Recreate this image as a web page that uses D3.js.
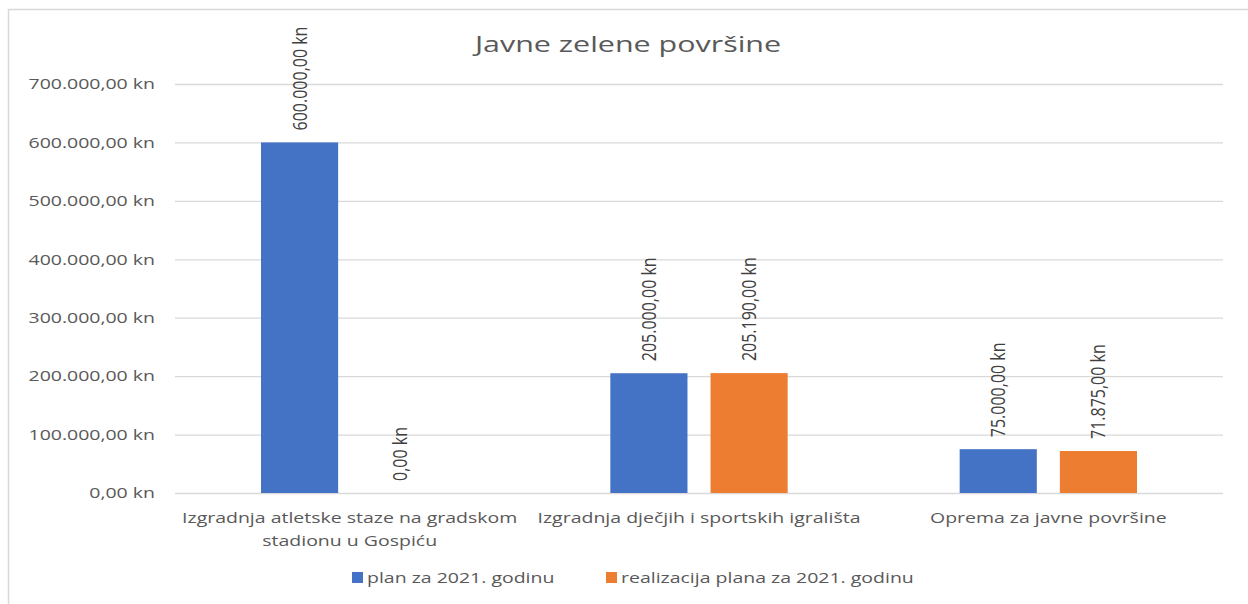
<!DOCTYPE html>
<html>
<head>
<meta charset="utf-8">
<script src="https://cdn.jsdelivr.net/npm/d3@7"></script>
<style>
    body { margin: 0; background: #fff; }
    #chart { width: 1248px; height: 604px; }
    text { font-family: "Open Sans", "Noto Sans", sans-serif; }
</style>
</head>
<body>
<div id="chart"></div>
<script>
// data
const categories = [
    ["Izgradnja atletske staze na gradskom", "stadionu u Gospiću"],
    ["Izgradnja dječjih i sportskih igrališta"],
    ["Oprema za javne površine"]
];
const seriesNames = ["plan za 2021. godinu", "realizacija plana za 2021. godinu"];
const planValues = [600000, 205000, 75000];
const realValues = [0, 205190, 71875];
const yTicks = [0, 100000, 200000, 300000, 400000, 500000, 600000, 700000];

const colors = ['#4472c4', '#ed7d31'];

// the original text is drawn wide, so stretch it horizontally
const stretch = 1.3;

// hr number format: 600.000,00 kn
const hr = d3.formatLocale({decimal: ",", thousands: ".", grouping: [3], currency: ["", " kn"]});
const fmt = d => hr.format(",.2f")(d) + " kn";

let margin = {top: 84, right: 25, bottom: 111, left: 175};
let width = 1248, height = 604;

let svg = d3.select("#chart").append("svg")
    .attr("width", width)
    .attr("height", height);

// outer chart border (left + top)
svg.append("path")
    .attr("d", `M8.5,${height} L8.5,9.5 L${width},9.5`)
    .attr("fill", "none")
    .attr("stroke", "#d9d9d9")
    .attr("stroke-width", 1.5);

let x = d3.scaleBand()
    .domain(d3.range(categories.length))
    .range([margin.left, width - margin.right]);

let x1 = d3.scaleBand()
    .domain([0, 1])
    .range([86, x.bandwidth() - 86])
    .paddingInner(0.23);

let y = d3.scaleLinear()
    .domain([0, 700000])
    .range([height - margin.bottom, margin.top]);

// gridlines + y labels
let yAxis = d3.axisLeft(y)
    .tickValues(yTicks)
    .tickSize(-(width - margin.left - margin.right))
    .tickFormat(fmt);

let gy = svg.append("g")
    .attr("transform", `translate(${margin.left},0)`)
    .call(yAxis);
gy.select(".domain").remove();
gy.selectAll(".tick line").attr("stroke", "#d9d9d9").attr("stroke-width", 1.3);
gy.selectAll(".tick text")
    .attr("x", 0)
    .attr("transform", `translate(-20,0) scale(${stretch},1)`)
    .attr("fill", "#595959")
    .style("font-size", "15px");

// title
svg.append("text")
    .attr("transform", "translate(628,52) scale(1.45,1)")
    .attr("text-anchor", "middle")
    .attr("fill", "#595959")
    .style("font-size", "21px")
    .text("Javne zelene površine");

// bars
let series = [planValues, realValues];
let groups = svg.selectAll(".cat")
    .data(categories)
    .enter().append("g")
    .attr("class", "cat")
    .attr("transform", (d, i) => `translate(${x(i)},0)`);

groups.each(function(c, i) {
    let g = d3.select(this);
    series.forEach((vals, s) => {
        let v = vals[i];
        g.append("rect")
            .attr("x", x1(s))
            .attr("y", y(v))
            .attr("width", x1.bandwidth())
            .attr("height", y(0) - y(v))
            .attr("fill", colors[s]);

        let lx = x1(s) + x1.bandwidth() / 2;
        let ly = y(v) - 12;
        g.append("text")
            .attr("transform", `translate(${lx + 7},${ly}) scale(${stretch},1) rotate(-90)`)
            .attr("fill", "#404040")
            .style("font-size", "16px")
            .text(fmt(v));
    });

    // category labels
    let t = g.append("text")
        .attr("transform", `translate(${x.bandwidth() / 2},523) scale(${stretch},1)`)
        .attr("text-anchor", "middle")
        .attr("fill", "#595959")
        .style("font-size", "15px");
    c.forEach((line, k) => {
        t.append("tspan")
            .attr("x", 0)
            .attr("y", k * 23)
            .text(line);
    });
});

// legend
let legend = svg.append("g").attr("class", "legend");
let legendX = [352, 606];
seriesNames.forEach((name, s) => {
    legend.append("rect")
        .attr("x", legendX[s])
        .attr("y", 572)
        .attr("width", 11)
        .attr("height", 11)
        .attr("fill", colors[s]);
    legend.append("text")
        .attr("transform", `translate(${legendX[s] + 15},583) scale(${stretch},1)`)
        .attr("fill", "#595959")
        .style("font-size", "15px")
        .text(name);
});
</script>
</body>
</html>
